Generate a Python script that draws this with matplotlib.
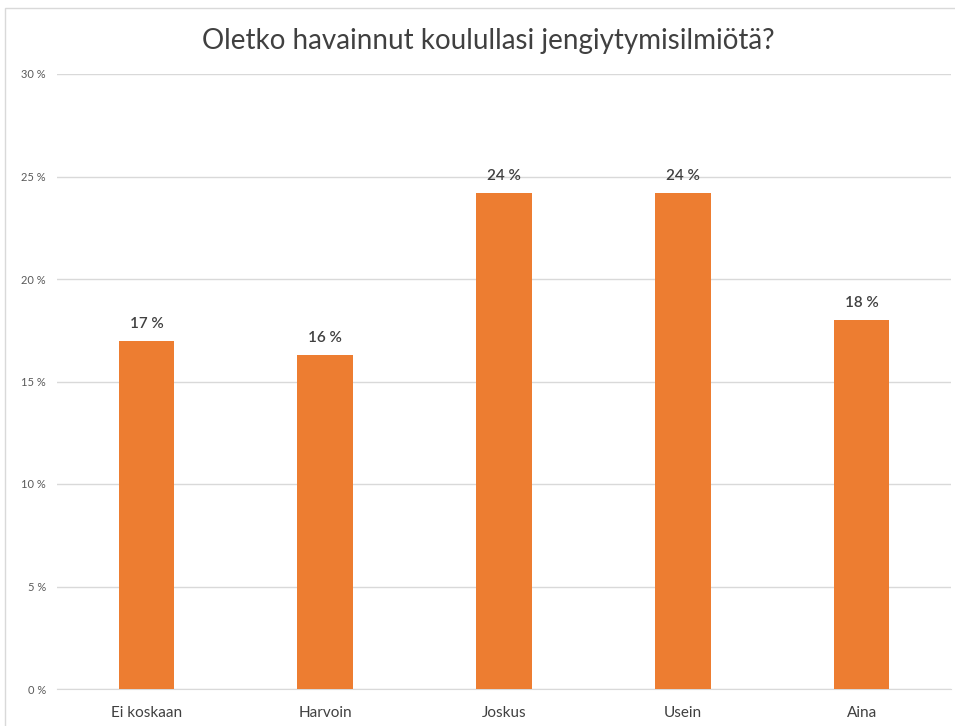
import matplotlib.pyplot as plt
from matplotlib.patches import Rectangle
from matplotlib.ticker import FuncFormatter

plt.rcParams["font.family"] = ["Lato", "DejaVu Sans"]

# data
categories = ["Ei koskaan", "Harvoin", "Joskus", "Usein", "Aina"]
values = [17.0, 16.3, 24.2, 24.2, 18.0]
labels = ["17 %", "16 %", "24 %", "24 %", "18 %"]

fig = plt.figure(figsize=(9.55, 7.26), dpi=100)

# chart border
fig.patches.append(Rectangle(
    (5 / 955, -0.1), 1.1, 1 - 8 / 726 + 0.1,
    transform=fig.transFigure, fill=False,
    edgecolor="#d9d9d9", linewidth=1
))

ax = fig.add_axes([57 / 955, 1 - 689 / 726, (951 - 57) / 955, (689 - 74) / 726])

x = range(len(categories))
bars = ax.bar(x, values, width=0.31, color="#ED7D31", zorder=3)

for bar, lab in zip(bars, labels):
    ax.annotate(
        lab,
        (bar.get_x() + bar.get_width() / 2, bar.get_height()),
        xytext=(0, 7), textcoords="offset points",
        ha="center", va="bottom",
        fontsize=11, color="#404040", fontweight="semibold"
    )

ax.set_xlim(-0.5, len(categories) - 0.5)
ax.set_ylim(0, 30)
ax.set_yticks(range(0, 31, 5))
ax.yaxis.set_major_formatter(FuncFormatter(lambda v, p: f"{int(v)} %"))
ax.set_xticks(list(x))
ax.set_xticklabels(categories, fontsize=11, color="#404040")

ax.tick_params(axis="y", length=0, labelsize=8, labelcolor="#595959", pad=8)
ax.tick_params(axis="x", length=0, pad=12)

ax.grid(axis="y", color="#d9d9d9", linewidth=1, zorder=0)
for s in ["top", "right", "left"]:
    ax.spines[s].set_visible(False)
ax.spines["bottom"].set_color("#d9d9d9")

fig.text(
    488 / 955, 1 - 41 / 726,
    "Oletko havainnut koulullasi jengiytymisilmiötä?",
    ha="center", va="center", fontsize=20, color="#404040"
)

plt.savefig("out.png", dpi=100)
